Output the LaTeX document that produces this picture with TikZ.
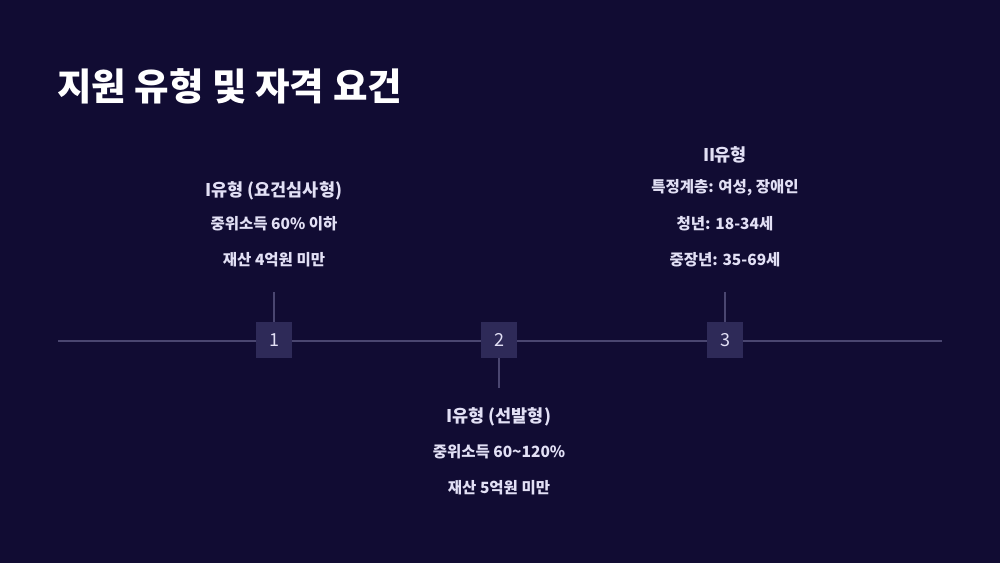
\documentclass[tikz,border=0pt]{standalone}
\usepackage{fontspec}
\setmainfont{Noto Sans CJK KR}
\definecolor{bg}{HTML}{110C33}
\definecolor{boxc}{HTML}{2E2A58}
\definecolor{linec}{HTML}{4A4670}
\definecolor{txt}{HTML}{E2E0F5}
\tikzset{
 numbox/.style={fill=boxc,minimum width=36pt,minimum height=36pt,inner sep=0pt,text=txt,font=\fontsize{18}{18}\selectfont},
 head/.style={text=txt,font=\bfseries\fontsize{17.5}{18}\selectfont,inner sep=0pt},
 body/.style={text=txt,font=\bfseries\fontsize{15.5}{16}\selectfont,inner sep=0pt},
 conn/.style={draw=linec,line width=1.2pt}
}
\newcommand{\romI}{I\kern-0.5pt}
\begin{document}
\begin{tikzpicture}[x=1pt,y=-1pt]
\fill[bg] (0,0) rectangle (1000,563);
\useasboundingbox (0,0) rectangle (1000,563);
\node[anchor=west,text=white,font=\bfseries\fontsize{37.5}{40}\selectfont,inner sep=0pt] (title) at (57,86) {지원 유형 및 자격 요건};
\coordinate (L) at (58,341); \coordinate (R) at (942,341);
\draw[conn] (L) -- (R);
\coordinate (t1) at (274,292); \coordinate (t2) at (499,388); \coordinate (t3) at (725,292);
\node[numbox] (b1) at (274,340) {1};
\node[numbox] (b2) at (499,340) {2};
\node[numbox] (b3) at (725,340) {3};
\draw[conn] (b1) -- (t1);
\draw[conn] (b2) -- (t2);
\draw[conn] (b3) -- (t3);
\node[head] (h1) at (274,190.5) {\romI 유형 (요건심사형)};
\node[body] (a1) at (274,223.5) {중위소득 60\% 이하};
\node[body] (c1) at (274,259.5) {재산 4억원 미만};
\node[head] (h2) at (499,416.5) {\romI 유형 (선발형)};
\node[body] (a2) at (499,451.5) {중위소득 60\textasciitilde120\%};
\node[body] (c2) at (499,487.5) {재산 5억원 미만};
\node[head] (h3) at (725,154.5) {II\kern-0.5pt 유형};
\node[body] (a3) at (725,187.5) {특정계층: 여성, 장애인};
\node[body] (c3) at (725,223.5) {청년: 18-34세};
\node[body] (d3) at (725,259.5) {중장년: 35-69세};
\end{tikzpicture}
\end{document}
